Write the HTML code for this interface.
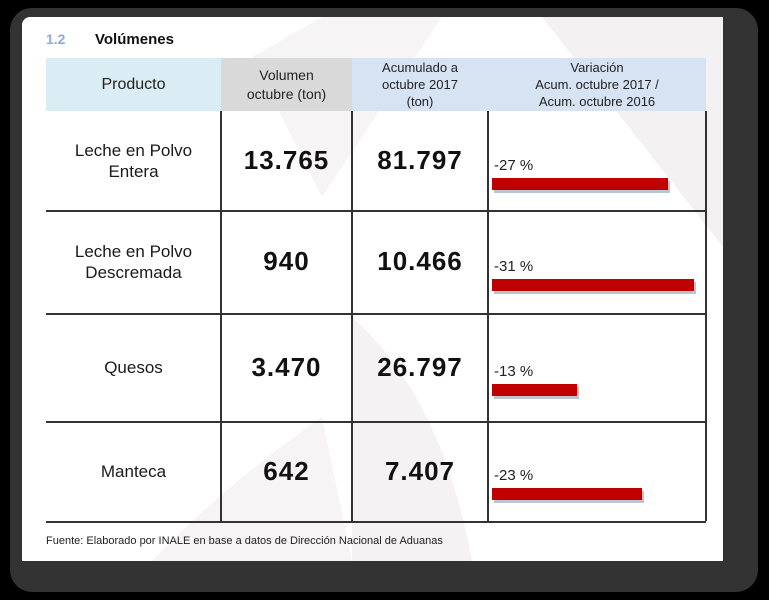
<!DOCTYPE html>
<html><head><meta charset="utf-8">
<style>
body{margin:0;width:769px;height:600px;background:#000;position:relative;overflow:hidden;font-family:"Liberation Sans",sans-serif}
.frame{position:absolute;left:10px;top:8px;width:748px;height:584px;background:#333;border-radius:22px}
.page{position:absolute;left:22px;top:17px;width:701px;height:544px;background:#fff;border-radius:8px 0 0 0;overflow:hidden}
.bg{position:absolute;left:0;top:0}
.abs{position:absolute}
.hdr{position:absolute;top:58px;height:53px;display:flex;align-items:center;justify-content:center;text-align:center;color:#222}
.cell{position:absolute;display:flex;align-items:center;justify-content:center;text-align:center;color:#111}
.name{font-size:17px;line-height:21px;color:#1a1a1a}
.num{font-size:26px;font-weight:bold;letter-spacing:1px}
.pct{position:absolute;font-size:15px;color:#222;left:494px}
.bar{position:absolute;left:492px;height:12px;background:#c00000;box-shadow:2px 3px 0 #b8c7cf}
.hl{position:absolute;left:46px;width:660px;height:1.5px;background:#333}
.vl{position:absolute;width:1.5px;background:#333;top:111px;height:410px}
</style></head><body>
<div class="frame"></div>
<div class="page">
<svg class="bg" width="701" height="544">
<polygon points="520,0 701,0 701,230" fill="#f3f1f1"/>
<polygon points="230,40 300,0 420,0 300,180" fill="#f6f4f4"/>
<path d="M330,300 Q420,380 450,544 L330,544 Z" fill="#f4f2f2"/>
<path d="M130,544 Q200,470 300,400 L330,544 Z" fill="#f6f4f4"/>
</svg>
</div>
<div class="abs" style="left:46px;top:31px;font-size:14px;font-weight:bold;color:#8eaadb">1.2</div>
<div class="abs" style="left:95px;top:31px;font-size:15px;font-weight:bold;color:#111">Volúmenes</div>

<div class="hdr" style="left:46px;width:175px;background:#daedf4;font-size:16px">Producto</div>
<div class="hdr" style="left:221px;width:131px;background:#d9d9d9;font-size:14px;line-height:19px">Volumen<br>octubre (ton)</div>
<div class="hdr" style="left:352px;width:136px;background:#d6e3f3;font-size:13px;line-height:17px">Acumulado a<br>octubre 2017<br>(ton)</div>
<div class="hdr" style="left:488px;width:218px;background:#d6e3f3;font-size:13px;line-height:17px">Variación<br>Acum. octubre 2017 /<br>Acum. octubre 2016</div>

<div class="vl" style="left:220px"></div>
<div class="vl" style="left:351px"></div>
<div class="vl" style="left:487px"></div>
<div class="vl" style="left:705px"></div>
<div id="rows"></div>

<div class="abs" style="left:46px;top:535px;font-size:11px;color:#222">Fuente: Elaborado por INALE en base a datos de Dirección Nacional de Aduanas</div>

<script>
const products=["Leche en Polvo<br>Entera","Leche en Polvo<br>Descremada","Quesos","Manteca"];
const volumes=["13.765","940","3.470","642"];
const accum=["81.797","10.466","26.797","7.407"];
const variation=[-27,-31,-13,-23];
const rowTops=[111,210,313,421,521];
const pxPerPct=6.5;
const root=document.getElementById('rows');
for(let i=0;i<products.length;i++){
  const t=rowTops[i],h=rowTops[i+1]-t;
  const n=document.createElement('div');n.className='cell name';
  n.style.cssText=`left:46px;width:175px;top:${t}px;height:${h}px`;n.innerHTML=products[i];
  
  root.appendChild(n);
  const v=document.createElement('div');v.className='cell num';
  v.style.cssText=`left:221px;width:131px;top:${t}px;height:${h}px`;v.textContent=volumes[i];
  
  root.appendChild(v);
  const a=document.createElement('div');a.className='cell num';
  a.style.cssText=`left:352px;width:136px;top:${t}px;height:${h}px`;a.textContent=accum[i];
  
  root.appendChild(a);
  const p=document.createElement('div');p.className='pct';
  p.style.top=(t+h/2-4)+'px';p.textContent=variation[i]+' %';
  
  root.appendChild(p);
  const b=document.createElement('div');b.className='bar';
  b.style.top=(t+h/2+17)+'px';b.style.width=(Math.abs(variation[i])*pxPerPct)+'px';
  
  root.appendChild(b);
  const l=document.createElement('div');l.className='hl';l.style.top=rowTops[i+1]+'px';
  
  root.appendChild(l);
}
</script>
</body></html>
